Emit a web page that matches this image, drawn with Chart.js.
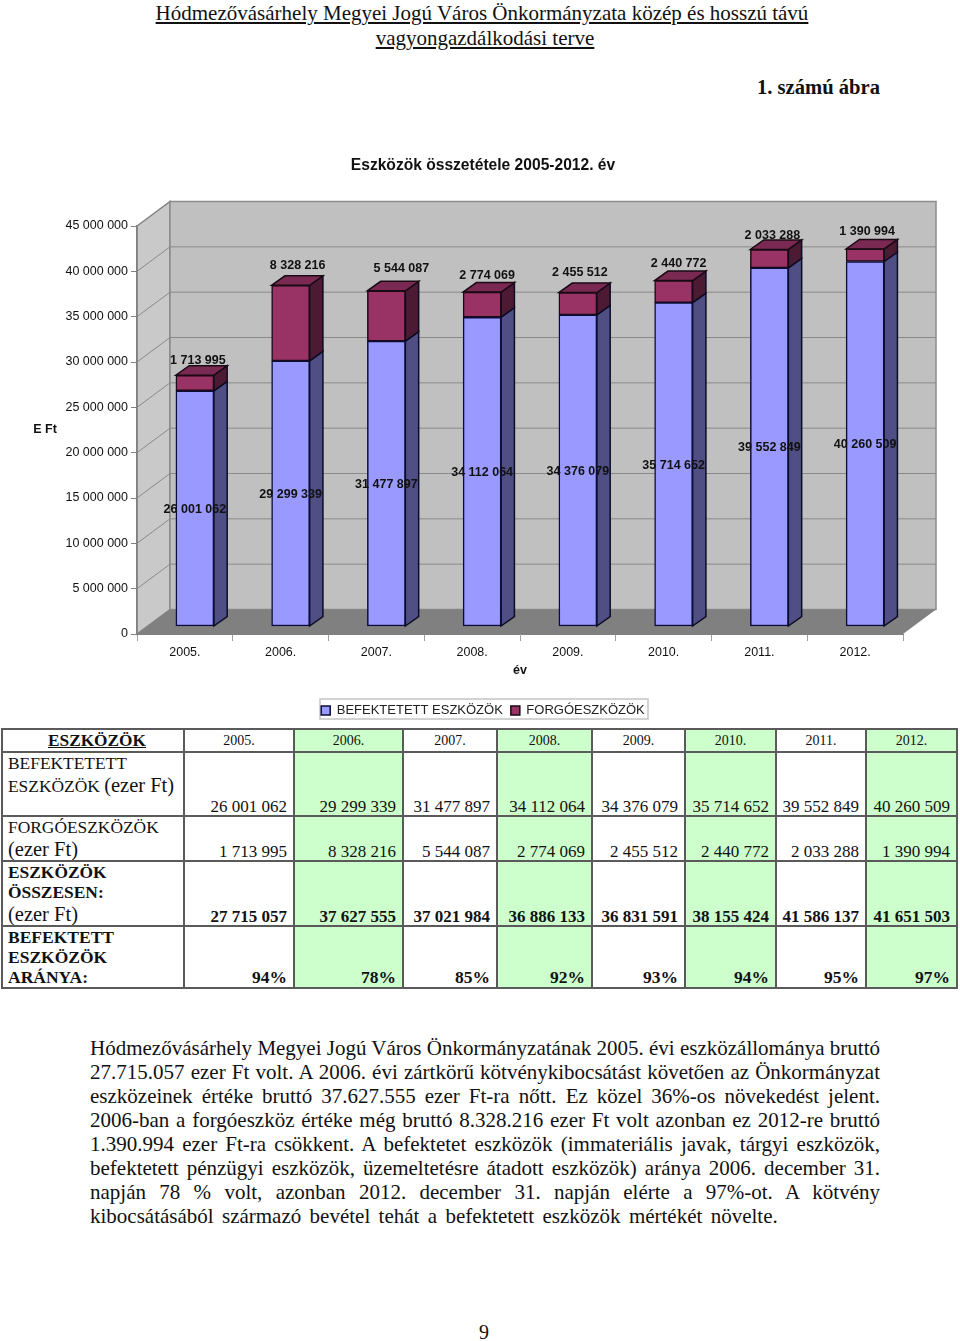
<!DOCTYPE html>
<html lang="hu">
<head>
<meta charset="utf-8">
<script src="https://cdn.jsdelivr.net/npm/chart.js@4"></script>
<style>
html,body{margin:0;padding:0;background:#fff;}
body{position:relative;width:960px;height:1341px;overflow:hidden;color:#111;font-family:"Liberation Serif",serif;}
.abs{position:absolute;white-space:nowrap;}
#head{left:0;width:970px;top:1px;text-align:center;font-size:21px;line-height:24.5px;text-decoration:underline;}
#head div:first-child{padding-right:6px;}
#fig{right:80px;top:75px;font-size:20.6px;line-height:24px;font-weight:bold;}
#wrap{position:absolute;left:0;top:150px;width:960px;height:575px;}
table{position:absolute;left:1px;top:728px;width:955px;height:254px;border-collapse:collapse;table-layout:fixed;}
td{border:2px solid #5a5a5a;padding:0 6px 0 0;text-align:right;vertical-align:bottom;font-size:17px;line-height:16px;overflow:hidden;white-space:nowrap;}
td.lab{text-align:left;padding:0 0 0 5px;vertical-align:top;line-height:20px;white-space:normal;font-size:17.4px;}
td.lab span{position:relative;top:2px;line-height:20px;}
td.lab span.e{font-size:20.5px;}
td.yr{text-align:center;vertical-align:middle;font-size:14px;line-height:20px;padding:0;}
td.corner{text-align:center;vertical-align:middle;font-weight:bold;font-size:17.3px;line-height:20px;text-decoration:underline;padding:0 0 0 8px;}
td.g{background:#ccffcc;}
tr.b td{font-weight:bold;}
tr.p td{font-size:17.5px;line-height:20px;}
#body{position:absolute;left:90px;top:1036px;width:790px;font-size:21px;line-height:24px;}
#body div{text-align:justify;text-align-last:justify;}
#body div.last{text-align:left;text-align-last:left;word-spacing:3.1px;}
#pg{left:479px;top:1320px;font-size:20px;line-height:24px;}
</style>
</head>
<body>
<div class="abs" id="head"><div>Hódmezővásárhely Megyei Jogú Város Önkormányzata közép és hosszú távú</div><div>vagyongazdálkodási terve</div></div>
<div class="abs" id="fig">1. számú ábra</div>
<div id="wrap"><canvas id="c" width="960" height="575"></canvas></div>
<table id="tbl"></table>
<div id="body"></div>
<div class="abs" id="pg">9</div>
<script>
const years = ['2005.','2006.','2007.','2008.','2009.','2010.','2011.','2012.'];
const fixedAssets = [26001062,29299339,31477897,34112064,34376079,35714652,39552849,40260509];
const currentAssets = [1713995,8328216,5544087,2774069,2455512,2440772,2033288,1390994];
const totalAssets = [27715057,37627555,37021984,36886133,36831591,38155424,41586137,41651503];
const fixedShare = ['94%','78%','85%','92%','93%','94%','95%','97%'];
const seriesNames = ['BEFEKTETETT ESZKÖZÖK','FORGÓESZKÖZÖK'];
const chartTitle = 'Eszközök összetétele 2005-2012. év';
const rowLabels = ['BEFEKTETETT<br><span>ESZKÖZÖK</span> <span class="e">(ezer Ft)</span>','FORGÓESZKÖZÖK<br><span class="e">(ezer Ft)</span>','<b>ESZKÖZÖK<br>ÖSSZESEN:</b><br><span class="e">(ezer Ft)</span>','<b>BEFEKTETT<br>ESZKÖZÖK<br>ARÁNYA:</b>'];
const bodyLines = [
'Hódmezővásárhely Megyei Jogú Város Önkormányzatának 2005. évi eszközállománya bruttó',
'27.715.057 ezer Ft volt. A 2006. évi zártkörű kötvénykibocsátást követően az Önkormányzat',
'eszközeinek értéke bruttó 37.627.555 ezer Ft-ra nőtt. Ez közel 36%-os növekedést jelent.',
'2006-ban a forgóeszköz értéke még bruttó 8.328.216 ezer Ft volt azonban ez 2012-re bruttó',
'1.390.994 ezer Ft-ra csökkent. A befektetet eszközök (immateriális javak, tárgyi eszközök,',
'befektetett pénzügyi eszközök, üzemeltetésre átadott eszközök) aránya 2006. december 31.',
'napján 78 % volt, azonban 2012. december 31. napján elérte a 97%-ot. A kötvény',
'kibocsátásából származó bevétel tehát a befektetett eszközök mértékét növelte.'
];
// hand-placed data label nudges of the upper series, as in the original
const topLabelDx = [3,7,15,5,2,5,3,2];
const topLabelDy = [-16,-21,-23,-18,-21,-18,-15,-18];

const fmt = v => String(v).replace(/\B(?=(\d{3})+(?!\d))/g,'\u00a0');

// ---- page text and table
document.getElementById('body').innerHTML = bodyLines.map((l,i)=>`<div class="${i===bodyLines.length-1?'last':''}">${l}</div>`).join('');
const colWidths=[182,110,109,94,95,93,91,90,91], rowHeights=[23,64,45,65,57];
const tbl=document.getElementById('tbl');
let h='<colgroup>'+colWidths.map(w=>`<col style="width:${w}px">`).join('')+'</colgroup>';
h+=`<tr style="height:${rowHeights[0]}px"><td class="corner">ESZKÖZÖK</td>`+years.map((y,i)=>`<td class="yr${i%2?' g':''}">${y}</td>`).join('')+'</tr>';
const rows=[fixedAssets.map(fmt),currentAssets.map(fmt),totalAssets.map(fmt),fixedShare];
rows.forEach((r,k)=>{
  h+=`<tr class="${k>=2?'b':''}${k===3?' p':''}" style="height:${rowHeights[k+1]}px"><td class="lab" style="font-weight:normal">${rowLabels[k]}</td>`+r.map((v,i)=>`<td class="${i%2?'g':''}">${v}</td>`).join('')+'</tr>';
});
tbl.innerHTML=h;

// ---- 3-D look
const DEPTH={x:33,y:-24.5};       // wall depth
const PLANE={x:10,y:-7.5};        // bars sit this far behind the front plane
const EXT={x:13.3,y:-9.5};        // bar extrusion
const poly=(ctx,pts,fill,stroke,lw)=>{ctx.beginPath();pts.forEach((p,i)=>i?ctx.lineTo(p[0],p[1]):ctx.moveTo(p[0],p[1]));ctx.closePath();if(fill){ctx.fillStyle=fill;ctx.fill();}if(stroke){ctx.strokeStyle=stroke;ctx.lineWidth=lw||1;ctx.stroke();}};
const faces=[{side:'#4f4f85'},{side:'#4d1a33',top:'#7a2952'}];
const plugin3d={
  id:'plugin3d',
  afterLayout(chart){
    const t=chart.titleBlock; t.left=0; t.right=966; t.width=966;
    const l=chart.legend; l.left=0; l.right=966; l.width=966; l.top=546; l.bottom=572;
  },
  beforeDraw(chart){
    const {ctx,chartArea:a,scales:{y}}=chart;
    ctx.save();
    ctx.strokeStyle='#c4c4c4'; ctx.lineWidth=1.5; ctx.strokeRect(320,549,328,20);
    const L=a.left,R=a.right,T=a.top,B=a.bottom,dx=DEPTH.x,dy=DEPTH.y;
    poly(ctx,[[L,B],[L+dx,B+dy],[L+dx,T+dy],[L,T]],'#c9c9c9','#808080',1.5);
    poly(ctx,[[L+dx,B+dy],[R+dx,B+dy],[R+dx,T+dy],[L+dx,T+dy]],'#c0c0c0','#8c8c8c',1.5);
    ctx.strokeStyle='#8a8a8a'; ctx.lineWidth=1;
    y.ticks.forEach(t=>{
      if(t.value===0||t.value===y.max) return;
      const py=y.getPixelForValue(t.value);
      ctx.beginPath();ctx.moveTo(L,py);ctx.lineTo(L+dx,py+dy);ctx.lineTo(R+dx,py+dy);ctx.stroke();
    });
    poly(ctx,[[L,B],[R,B],[R+dx,B+dy],[L+dx,B+dy]],'#808080');
    ctx.restore();
  },
  beforeDatasetsDraw(chart){
    const ctx=chart.ctx;
    ctx.save();
    ctx.translate(PLANE.x,PLANE.y);
    chart.data.datasets.forEach((d,k)=>{
      chart.getDatasetMeta(k).data.forEach(el=>{
        const r=el.x+el.width/2,l=el.x-el.width/2,t=el.y,b=el.base,ex=EXT.x,ey=EXT.y;
        poly(ctx,[[r,b],[r+ex,b+ey],[r+ex,t+ey],[r,t]],faces[k].side,'#0c0c22',1.5);
        if(faces[k].top) poly(ctx,[[l,t],[r,t],[r+ex,t+ey],[l+ex,t+ey]],faces[k].top,'#1a0a14',1.5);
      });
    });
  },
  afterDatasetsDraw(chart){
    const ctx=chart.ctx;
    ctx.restore();
    ctx.save();
    ctx.font='bold 12.5px "Liberation Sans"';
    ctx.fillStyle='#111'; ctx.textAlign='center'; ctx.textBaseline='middle';
    chart.getDatasetMeta(0).data.forEach((el,i)=>{
      ctx.fillText(fmt(fixedAssets[i]),el.x+PLANE.x,(el.y+el.base)/2+PLANE.y+1);
    });
    chart.getDatasetMeta(1).data.forEach((el,i)=>{
      ctx.fillText(fmt(currentAssets[i]),el.x+PLANE.x+topLabelDx[i],el.y+PLANE.y+topLabelDy[i]+1);
    });
    // horizontal value-axis title
    ctx.fillText('E Ft',45,280);
    ctx.restore();
  }
};
const tickFont={family:'"Liberation Sans"',size:12.5};
new Chart(document.getElementById('c'),{
  type:'bar',
  plugins:[plugin3d],
  data:{labels:years,datasets:[
    {label:seriesNames[0],data:fixedAssets,backgroundColor:'#9999ff',borderColor:'#0c0c3a',borderWidth:1.5,borderSkipped:false,barThickness:38,clip:false},
    {label:seriesNames[1],data:currentAssets,backgroundColor:'#993366',borderColor:'#1a0a14',borderWidth:1.5,borderSkipped:false,barThickness:38,clip:false}
  ]},
  options:{
    responsive:false,animation:false,
    layout:{padding:{left:0,right:57,top:0,bottom:10}},
    plugins:{
      title:{display:true,text:chartTitle,color:'#111',font:{family:'"Liberation Sans"',size:15.6,weight:'bold',lineHeight:1.2},padding:{top:6,bottom:51.3}},
      legend:{position:'bottom',labels:{color:'#222',font:{family:'"Liberation Sans"',size:13},boxWidth:9,boxHeight:9,padding:8}},
      tooltip:{enabled:false}
    },
    scales:{
      x:{stacked:true,
        afterFit(s){s.height=50;},
        border:{color:'#808080',width:1},
        grid:{drawOnChartArea:false,color:'#a0a0a0',tickLength:7},
        ticks:{color:'#111',font:tickFont,padding:4,maxRotation:0},
        title:{display:true,text:'év',color:'#111',font:{family:'"Liberation Sans"',size:12.5,weight:'bold',lineHeight:1.2},padding:{top:0,bottom:6}}
      },
      y:{stacked:true,min:0,max:45000000,
        afterFit(s){s.width=137;},
        border:{color:'#808080',width:1.5},
        grid:{drawOnChartArea:false,color:'#808080',tickLength:6},
        ticks:{stepSize:5000000,color:'#111',font:tickFont,padding:3,callback:v=>fmt(v)}
      }
    }
  }
});
</script>
</body>
</html>
